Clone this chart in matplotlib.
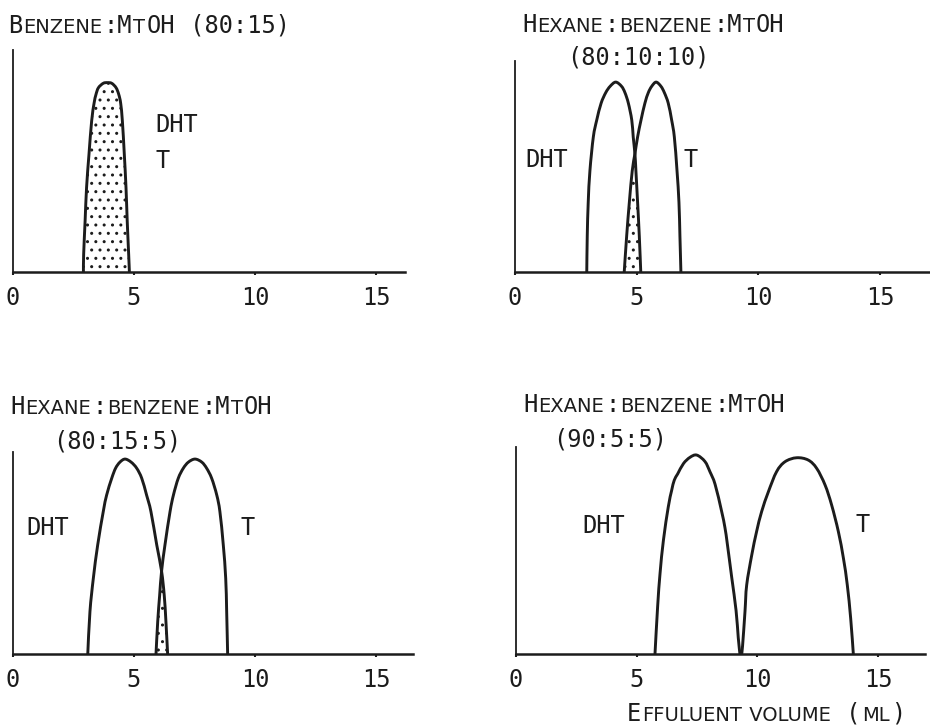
import numpy as np
import matplotlib
matplotlib.use("Agg")
import matplotlib.pyplot as plt
from matplotlib.path import Path
from matplotlib.patches import PathPatch
from matplotlib.offsetbox import TextArea, HPacker, AnnotationBbox

W, H = 930, 725
ink = "#1c1c1c"
mono = "DejaVu Sans Mono"

ticks = [0, 5, 10, 15]
tick_labels = ["0", "5", "10", "15"]

# Benzene:MtOH - DHT and T come off together
p1_x = [2.91, 2.92, 2.98, 3.04, 3.14, 3.25, 3.35, 3.43, 3.53, 3.73, 3.90,
        4.08, 4.26, 4.37, 4.45, 4.52, 4.60, 4.67, 4.72, 4.78, 4.81]
p1_y = [0, 0.08, 0.23, 0.38, 0.53, 0.68, 0.76, 0.80, 0.83, 0.85, 0.853,
        0.85, 0.83, 0.80, 0.76, 0.68, 0.53, 0.38, 0.23, 0.08, 0]

# Hexane:benzene:MtOH (80:10:10)
p2_dht_x = [2.95, 2.97, 3.01, 3.08, 3.22, 3.36, 3.54, 3.73, 3.91, 4.14,
            4.38, 4.52, 4.66, 4.80, 4.86, 4.93, 4.97, 5.04, 5.11, 5.17]
p2_dht_y = [0, 0.17, 0.33, 0.48, 0.64, 0.72, 0.80, 0.85, 0.88, 0.90,
            0.88, 0.85, 0.80, 0.72, 0.64, 0.56, 0.48, 0.33, 0.17, 0]
p2_t_x = [4.49, 4.59, 4.70, 4.82, 4.93, 5.04, 5.18, 5.34, 5.48, 5.62,
          5.80, 6.00, 6.14, 6.30, 6.44, 6.55, 6.66, 6.74, 6.78, 6.82]
p2_t_y = [0, 0.17, 0.33, 0.48, 0.56, 0.64, 0.72, 0.80, 0.85, 0.88,
          0.90, 0.88, 0.85, 0.80, 0.72, 0.64, 0.48, 0.33, 0.17, 0]
p2_cross = 4.93

# Hexane:benzene:MtOH (80:15:5)
p3_dht_x = [3.09, 3.18, 3.32, 3.50, 3.73, 3.87, 4.08, 4.24, 4.42, 4.63,
            4.88, 5.11, 5.32, 5.52, 5.70, 5.94, 6.14, 6.25, 6.32, 6.39]
p3_dht_y = [0, 0.21, 0.375, 0.54, 0.705, 0.787, 0.87, 0.92, 0.95, 0.965,
            0.95, 0.92, 0.87, 0.787, 0.705, 0.54, 0.41, 0.29, 0.16, 0]
p3_t_x = [5.91, 5.98, 6.06, 6.14, 6.28, 6.49, 6.63, 6.83, 7.04, 7.25,
          7.52, 7.80, 8.00, 8.21, 8.42, 8.55, 8.69, 8.79, 8.83, 8.87]
p3_t_y = [0, 0.16, 0.29, 0.41, 0.54, 0.705, 0.787, 0.87, 0.92, 0.95,
          0.965, 0.95, 0.92, 0.87, 0.787, 0.705, 0.54, 0.375, 0.21, 0]
p3_cross = 6.14

# Hexane:benzene:MtOH (90:5:5)
p4_dht_x = [5.76, 5.87, 5.97, 6.11, 6.31, 6.45, 6.56, 6.70, 6.94, 7.21, 7.49,
            7.83, 8.04, 8.25, 8.52, 8.66, 8.76, 8.94, 9.12, 9.21, 9.28]
p4_dht_y = [0, 0.23, 0.39, 0.55, 0.71, 0.79, 0.84, 0.87, 0.92, 0.95, 0.961,
            0.93, 0.88, 0.82, 0.69, 0.61, 0.53, 0.37, 0.21, 0.08, 0]
p4_t_x = [9.35, 9.39, 9.49, 9.56, 9.77, 9.97, 10.18, 10.46, 10.80, 11.15,
          11.63, 12.11, 12.46, 12.81, 13.08, 13.36, 13.57, 13.73, 13.87, 13.98]
p4_t_y = [0, 0.04, 0.205, 0.333, 0.478, 0.591, 0.688, 0.784, 0.881, 0.929,
          0.948, 0.937, 0.897, 0.816, 0.720, 0.591, 0.462, 0.333, 0.172, 0]

titles = [["Benzene:MtOH (80:15)"],
          ["Hexane:benzene:MtOH", "(80:10:10)"],
          ["Hexane:benzene:MtOH", "(80:15:5)"],
          ["Hexane:benzene:MtOH", "(90:5:5)"]]
xlabel = "Effuluent volume (ml)"


def px_axes(fig, left, top, right, bottom, xmax):
    ax = fig.add_axes([left / W, 1 - bottom / H, (right - left) / W, (bottom - top) / H])
    ax.set_xlim(0, xmax)
    ax.set_ylim(0, 1)
    ax.spines[["top", "right"]].set_visible(False)
    ax.spines["left"].set_linewidth(1.3)
    ax.spines["bottom"].set_linewidth(1.8)
    ax.spines["left"].set_color(ink)
    ax.spines["bottom"].set_color(ink)
    ax.set_yticks([])
    ax.set_xticks(ticks)
    ax.set_xticklabels(tick_labels, fontsize=17, family=mono, color=ink)
    ax.tick_params(axis="x", length=2, width=1.5, color=ink, pad=8)
    ax.patch.set_alpha(0)
    return ax


def smooth(x, y):
    # smooth pen line through the read outline points (Catmull-Rom as Bezier)
    p = np.column_stack([x, y]).astype(float)
    ext = np.vstack([p[0], p, p[-1]])
    verts, codes = [p[0]], [Path.MOVETO]
    for i in range(len(p) - 1):
        p0, p1, p2, p3 = ext[i], ext[i + 1], ext[i + 2], ext[i + 3]
        verts += [p1 + (p2 - p0) / 6, p2 - (p3 - p1) / 6, p2]
        codes += [Path.CURVE4] * 3
    return Path(verts, codes)


def peak(ax, x, y):
    ax.add_patch(PathPatch(smooth(x, y), facecolor="none", edgecolor=ink,
                           lw=2.1, joinstyle="round", capstyle="round"))


def stipple(ax, x, y):
    ax.add_patch(PathPatch(smooth(x, y), facecolor="none", edgecolor=ink,
                           lw=0, hatch=".."))


def overlap(dx, dy, tx, ty, cross):
    ia, it = int(np.argmax(dy)), int(np.argmax(ty))
    xs = [a for a in tx[:it] if a <= cross] + [a for a in dx[ia:] if a >= cross]
    ys = [b for a, b in zip(tx[:it], ty[:it]) if a <= cross] + \
         [b for a, b in zip(dx[ia:], dy[ia:]) if a >= cross]
    return xs, ys


def smallcaps(fig, s, left, baseline, big=17, small=14):
    # lowercase letters are set as smaller capitals
    runs, pending = [], ""
    for ch in s:
        if ch == " ":
            pending += ch
            continue
        sm = ch.islower()
        if runs and runs[-1][1] == sm and not pending:
            runs[-1][0] += ch
        else:
            runs.append([pending + ch, sm])
        pending = ""
    kids = [TextArea(t.upper(), textprops=dict(size=small if sm else big,
                                               family="DejaVu Sans" if sm else mono,
                                               color=ink))
            for t, sm in runs]
    box = HPacker(children=kids, align="baseline", pad=0, sep=0.8)
    ab = AnnotationBbox(box, (left, H - baseline - 5), xycoords="figure pixels",
                        box_alignment=(0, 0), frameon=False, pad=0)
    fig.add_artist(ab)


def label(fig, s, left, baseline):
    fig.text(left / W, 1 - baseline / H, s, ha="left", va="baseline",
             fontsize=17, family=mono, color=ink)


fig = plt.figure(figsize=(W / 100, H / 100), dpi=100)

# top left
ax1 = px_axes(fig, 13, 50, 405, 272, 16.2)
stipple(ax1, p1_x, p1_y)
peak(ax1, p1_x, p1_y)
smallcaps(fig, titles[0][0], 8, 33)
label(fig, "DHT", 155, 132)
label(fig, "T", 155, 168)

# top right
ax2 = px_axes(fig, 515, 61, 930, 272, 17.06)
ox, oy = overlap(p2_dht_x, p2_dht_y, p2_t_x, p2_t_y, p2_cross)
stipple(ax2, ox, oy)
peak(ax2, p2_dht_x, p2_dht_y)
peak(ax2, p2_t_x, p2_t_y)
smallcaps(fig, titles[1][0], 522, 32)
smallcaps(fig, titles[1][1], 567, 65)
label(fig, "DHT", 525, 167)
label(fig, "T", 683, 167)

# bottom left
ax3 = px_axes(fig, 13, 452, 413, 654, 16.53)
ox, oy = overlap(p3_dht_x, p3_dht_y, p3_t_x, p3_t_y, p3_cross)
stipple(ax3, ox, oy)
peak(ax3, p3_dht_x, p3_dht_y)
peak(ax3, p3_t_x, p3_t_y)
smallcaps(fig, titles[2][0], 10, 414)
smallcaps(fig, titles[2][1], 53, 448)
label(fig, "DHT", 26, 535)
label(fig, "T", 240, 535)

# bottom right
ax4 = px_axes(fig, 516, 447, 925, 654, 16.95)
peak(ax4, p4_dht_x, p4_dht_y)
peak(ax4, p4_t_x, p4_t_y)
smallcaps(fig, titles[3][0], 523, 412)
smallcaps(fig, titles[3][1], 553, 446)
label(fig, "DHT", 582, 533)
label(fig, "T", 855, 532)
smallcaps(fig, xlabel, 627, 721)

fig.savefig("out.png", dpi=100, facecolor="white")
